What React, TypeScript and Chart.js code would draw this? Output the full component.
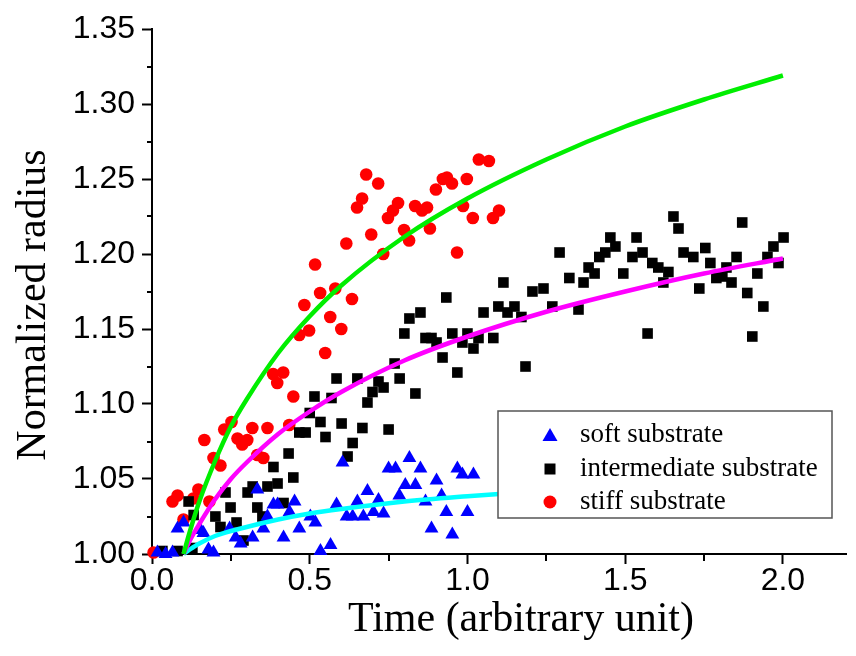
import React, { useEffect, useRef } from "react";
import { Chart, registerables } from "chart.js";

Chart.register(...registerables);

// ---- data: [time, normalized radius] ----
const softPoints: [number, number][] = [
  [0.017, 1.001], [0.043, 1.0], [0.065, 1.001], [0.081, 1.017], [0.1, 1.021],
  [0.154, 1.016], [0.163, 1.014], [0.179, 1.003], [0.195, 1.001], [0.246, 1.017],
  [0.265, 1.011], [0.281, 1.007], [0.319, 1.011], [0.334, 1.043], [0.353, 1.017],
  [0.366, 1.025], [0.385, 1.033], [0.398, 1.033], [0.417, 1.011], [0.436, 1.028],
  [0.452, 1.035], [0.467, 1.017], [0.502, 1.025], [0.518, 1.021], [0.534, 1.002],
  [0.566, 1.006], [0.585, 1.033], [0.604, 1.061], [0.617, 1.025], [0.636, 1.025],
  [0.651, 1.035], [0.67, 1.025], [0.683, 1.042], [0.702, 1.028], [0.718, 1.036],
  [0.734, 1.027], [0.75, 1.057], [0.772, 1.057], [0.784, 1.039], [0.803, 1.046],
  [0.816, 1.064], [0.835, 1.046], [0.851, 1.057], [0.867, 1.035], [0.886, 1.017],
  [0.902, 1.049], [0.918, 1.039], [0.933, 1.028], [0.952, 1.013], [0.968, 1.057],
  [0.984, 1.053], [1.0, 1.028], [1.019, 1.053],
];

const intermediatePoints: [number, number][] = [
  [0.033, 1.002], [0.081, 1.002], [0.128, 1.004], [0.116, 1.035], [0.132, 1.026],
  [0.201, 1.025], [0.217, 1.018], [0.233, 1.041], [0.249, 1.031], [0.268, 1.021],
  [0.29, 1.009], [0.303, 1.041], [0.319, 1.045], [0.334, 1.031], [0.35, 1.025],
  [0.366, 1.045], [0.385, 1.058], [0.398, 1.047], [0.417, 1.034], [0.433, 1.067],
  [0.448, 1.051], [0.467, 1.081], [0.487, 1.081], [0.5, 1.094], [0.515, 1.105],
  [0.534, 1.088], [0.55, 1.078], [0.569, 1.104], [0.585, 1.117], [0.601, 1.087],
  [0.62, 1.065], [0.636, 1.074], [0.651, 1.117], [0.667, 1.084], [0.683, 1.101],
  [0.699, 1.108], [0.718, 1.115], [0.734, 1.111], [0.75, 1.083], [0.769, 1.127],
  [0.785, 1.117], [0.8, 1.147], [0.816, 1.157], [0.835, 1.107], [0.851, 1.161],
  [0.867, 1.144], [0.886, 1.144], [0.902, 1.141], [0.921, 1.131], [0.933, 1.171],
  [0.952, 1.147], [0.968, 1.121], [0.984, 1.141], [1.0, 1.147], [1.019, 1.137],
  [1.035, 1.144], [1.051, 1.161], [1.082, 1.144], [1.098, 1.165], [1.114, 1.181],
  [1.127, 1.161], [1.149, 1.165], [1.171, 1.158], [1.184, 1.125], [1.206, 1.175],
  [1.241, 1.177], [1.269, 1.165], [1.292, 1.201], [1.323, 1.184], [1.352, 1.163],
  [1.368, 1.181], [1.384, 1.191], [1.403, 1.187], [1.418, 1.198], [1.437, 1.201],
  [1.453, 1.211], [1.469, 1.205], [1.494, 1.187], [1.523, 1.198], [1.536, 1.211],
  [1.555, 1.201], [1.571, 1.147], [1.586, 1.194], [1.605, 1.191], [1.621, 1.181],
  [1.637, 1.188], [1.653, 1.225], [1.669, 1.217], [1.685, 1.201], [1.716, 1.198],
  [1.735, 1.177], [1.754, 1.204], [1.77, 1.194], [1.789, 1.184], [1.808, 1.185],
  [1.821, 1.191], [1.837, 1.181], [1.853, 1.198], [1.871, 1.221], [1.887, 1.174],
  [1.903, 1.145], [1.919, 1.187], [1.938, 1.165], [1.951, 1.198], [1.97, 1.205],
  [1.986, 1.194], [2.002, 1.211],
];

const stiffPoints: [number, number][] = [
  [0.005, 1.001], [0.065, 1.035], [0.081, 1.039], [0.1, 1.023], [0.131, 1.037],
  [0.147, 1.043], [0.182, 1.035], [0.166, 1.076], [0.195, 1.064], [0.217, 1.059],
  [0.229, 1.083], [0.252, 1.088], [0.271, 1.077], [0.286, 1.073], [0.302, 1.076],
  [0.318, 1.084], [0.334, 1.066], [0.353, 1.064], [0.366, 1.084], [0.435, 1.086],
  [0.384, 1.12], [0.416, 1.121], [0.397, 1.114], [0.448, 1.105], [0.467, 1.146],
  [0.483, 1.166], [0.498, 1.149], [0.517, 1.193], [0.533, 1.174], [0.549, 1.134],
  [0.565, 1.158], [0.581, 1.177], [0.6, 1.15], [0.616, 1.207], [0.634, 1.17],
  [0.65, 1.231], [0.666, 1.237], [0.679, 1.253], [0.695, 1.213], [0.717, 1.247],
  [0.733, 1.2], [0.748, 1.224], [0.764, 1.229], [0.78, 1.234], [0.799, 1.216],
  [0.815, 1.209], [0.834, 1.232], [0.856, 1.229], [0.872, 1.231], [0.881, 1.217],
  [0.9, 1.243], [0.922, 1.25], [0.935, 1.251], [0.951, 1.247], [0.967, 1.201],
  [0.986, 1.232], [0.998, 1.25], [1.017, 1.224], [1.036, 1.263], [1.068, 1.262],
  [1.081, 1.224], [1.1, 1.229],
];

// fitted curves
const softFit: [number, number][] = [
  [0.1, 1.0], [0.12, 1.003], [0.15, 1.007], [0.2, 1.012], [0.3, 1.018],
  [0.4, 1.023], [0.5, 1.027], [0.6, 1.03], [0.8, 1.035], [1.0, 1.0385],
  [1.1, 1.04],
];
const intermediateFit: [number, number][] = [
  [0.1, 1.0], [0.12, 1.009], [0.15, 1.02], [0.2, 1.0365], [0.25, 1.05],
  [0.3, 1.061], [0.4, 1.08], [0.5, 1.095], [0.6, 1.108], [0.8, 1.129],
  [1.0, 1.145], [1.25, 1.1615], [1.5, 1.175], [1.75, 1.187], [2.0, 1.197],
];
const stiffFit: [number, number][] = [
  [0.1, 1.0], [0.12, 1.015], [0.15, 1.035], [0.2, 1.062], [0.25, 1.085],
  [0.3, 1.103], [0.4, 1.134], [0.5, 1.1585], [0.6, 1.179], [0.8, 1.2115],
  [1.0, 1.237], [1.25, 1.263], [1.5, 1.285], [1.75, 1.303], [2.0, 1.319],
];

const legendLabels = ["soft substrate", "intermediate substrate", "stiff substrate"];
const xTitle = "Time (arbitrary unit)";
const yTitle = "Normalized radius";
const xMinorTicks = [0.25, 0.75, 1.25, 1.75];
const yMinorTicks = [1.025, 1.075, 1.125, 1.175, 1.225, 1.275, 1.325];

const toXY = (arr: [number, number][]) => arr.map(([x, y]) => ({ x, y }));

const BLUE = "#0000ff";
const RED = "#ff0000";
const BLACK = "#000000";
const SANS = "'Liberation Sans', Arial, sans-serif";
const SERIF = "'Liberation Serif', 'Times New Roman', serif";

const decorPlugin = {
  id: "decor",
  afterDatasetsDraw(chart: any) {
    const ctx = chart.ctx;
    const xs = chart.scales.x;
    const ys = chart.scales.y;
    const area = chart.chartArea;
    ctx.save();
    // minor ticks
    ctx.strokeStyle = "#000";
    ctx.lineWidth = 2;
    ctx.beginPath();
    for (const v of xMinorTicks) {
      const px = Math.round(xs.getPixelForValue(v));
      ctx.moveTo(px, area.bottom);
      ctx.lineTo(px, area.bottom + 7);
    }
    for (const v of yMinorTicks) {
      const py = Math.round(ys.getPixelForValue(v));
      ctx.moveTo(area.left, py);
      ctx.lineTo(area.left - 5, py);
    }
    ctx.stroke();

    // legend box
    const bx = 498, by = 411, bw = 334, bh = 107;
    ctx.fillStyle = "#ffffff";
    ctx.fillRect(bx, by, bw, bh);
    ctx.strokeStyle = "#555";
    ctx.lineWidth = 1.5;
    ctx.strokeRect(bx, by, bw, bh);
    const rows = [435, 469, 502];
    const sx = 550;
    // triangle
    ctx.fillStyle = BLUE;
    ctx.beginPath();
    ctx.moveTo(sx, rows[0] - 7);
    ctx.lineTo(sx + 7.5, rows[0] + 6);
    ctx.lineTo(sx - 7.5, rows[0] + 6);
    ctx.closePath();
    ctx.fill();
    // square
    ctx.fillStyle = BLACK;
    ctx.fillRect(sx - 5.5, rows[1] - 5.5, 11, 11);
    // circle
    ctx.fillStyle = RED;
    ctx.beginPath();
    ctx.arc(sx, rows[2], 6.5, 0, Math.PI * 2);
    ctx.fill();

    ctx.fillStyle = "#000";
    ctx.font = `27px ${SERIF}`;
    ctx.textAlign = "left";
    ctx.textBaseline = "middle";
    legendLabels.forEach((t, i) => ctx.fillText(t, 580, rows[i]));
    ctx.restore();
  },
  afterDraw(chart: any) {
    const ctx = chart.ctx;
    ctx.save();
    ctx.fillStyle = "#000";
    ctx.font = `42px ${SERIF}`;
    ctx.textAlign = "center";
    ctx.textBaseline = "alphabetic";
    ctx.fillText(xTitle, 521, 631);
    ctx.translate(45, 305);
    ctx.rotate(-Math.PI / 2);
    ctx.fillText(yTitle, 0, 0);
    ctx.restore();
  },
};

export default function App() {
  const ref = useRef<HTMLCanvasElement | null>(null);
  useEffect(() => {
    if (!ref.current) return;
    const fitLine = (data: [number, number][], color: string) => ({
      type: "line" as const,
      data: toXY(data),
      borderColor: color,
      backgroundColor: color,
      borderWidth: 4.5,
      pointRadius: 0,
      showLine: true,
      fill: false,
      cubicInterpolationMode: "monotone" as const,
      order: 0,
      clip: false as any,
    });
    const scatter = (data: [number, number][], color: string, style: string, r: number) => ({
      type: "scatter" as const,
      data: toXY(data),
      backgroundColor: color,
      borderColor: color,
      borderWidth: 0,
      pointStyle: style,
      pointRadius: r,
      order: 1,
      clip: false as any,
    });
    const chart = new Chart(ref.current, {
      type: "scatter",
      data: {
        datasets: [
          fitLine(stiffFit, "#00ee00"),
          fitLine(intermediateFit, "#ff00ff"),
          fitLine(softFit, "#00ffff"),
          scatter(softPoints, BLUE, "triangle", 8),
          scatter(intermediatePoints, BLACK, "rect", 7.5),
          scatter(stiffPoints, RED, "circle", 6.3),
        ] as any,
      },
      options: {
        animation: false,
        responsive: false,
        events: [],
        layout: { padding: { left: 0, top: 29, right: 10, bottom: 0 } },
        plugins: { legend: { display: false }, tooltip: { enabled: false } },
        scales: {
          x: {
            type: "linear",
            min: 0,
            max: 2.2,
            afterFit: (s: any) => { s.height = 102; },
            border: { display: true, color: "#000", width: 2 },
            grid: { display: true, drawOnChartArea: false, drawTicks: true, tickLength: 10, tickColor: "#000", tickWidth: 2 },
            ticks: {
              stepSize: 0.5,
              includeBounds: false,
              padding: 0,
              color: "#000",
              font: { family: SANS, size: 32, lineHeight: 1.1 },
              maxRotation: 0,
              callback: (v: any) => Number(v).toFixed(1),
            },
          },
          y: {
            type: "linear",
            min: 1.0,
            max: 1.35,
            afterFit: (s: any) => { s.width = 152; },
            border: { display: true, color: "#000", width: 2 },
            grid: { display: true, drawOnChartArea: false, drawTicks: true, tickLength: 10, tickColor: "#000", tickWidth: 2 },
            ticks: {
              stepSize: 0.05,
              padding: 7,
              color: "#000",
              font: { family: SANS, size: 32 },
              callback: (v: any) => Number(v).toFixed(2),
            },
          },
        },
      } as any,
      plugins: [decorPlugin],
    });
    return () => chart.destroy();
  }, []);
  return (
    <div style={{ position: "absolute", left: 0, top: 0, width: 856, height: 656, background: "#fff" }}>
      <canvas ref={ref} width={856} height={656} />
    </div>
  );
}
